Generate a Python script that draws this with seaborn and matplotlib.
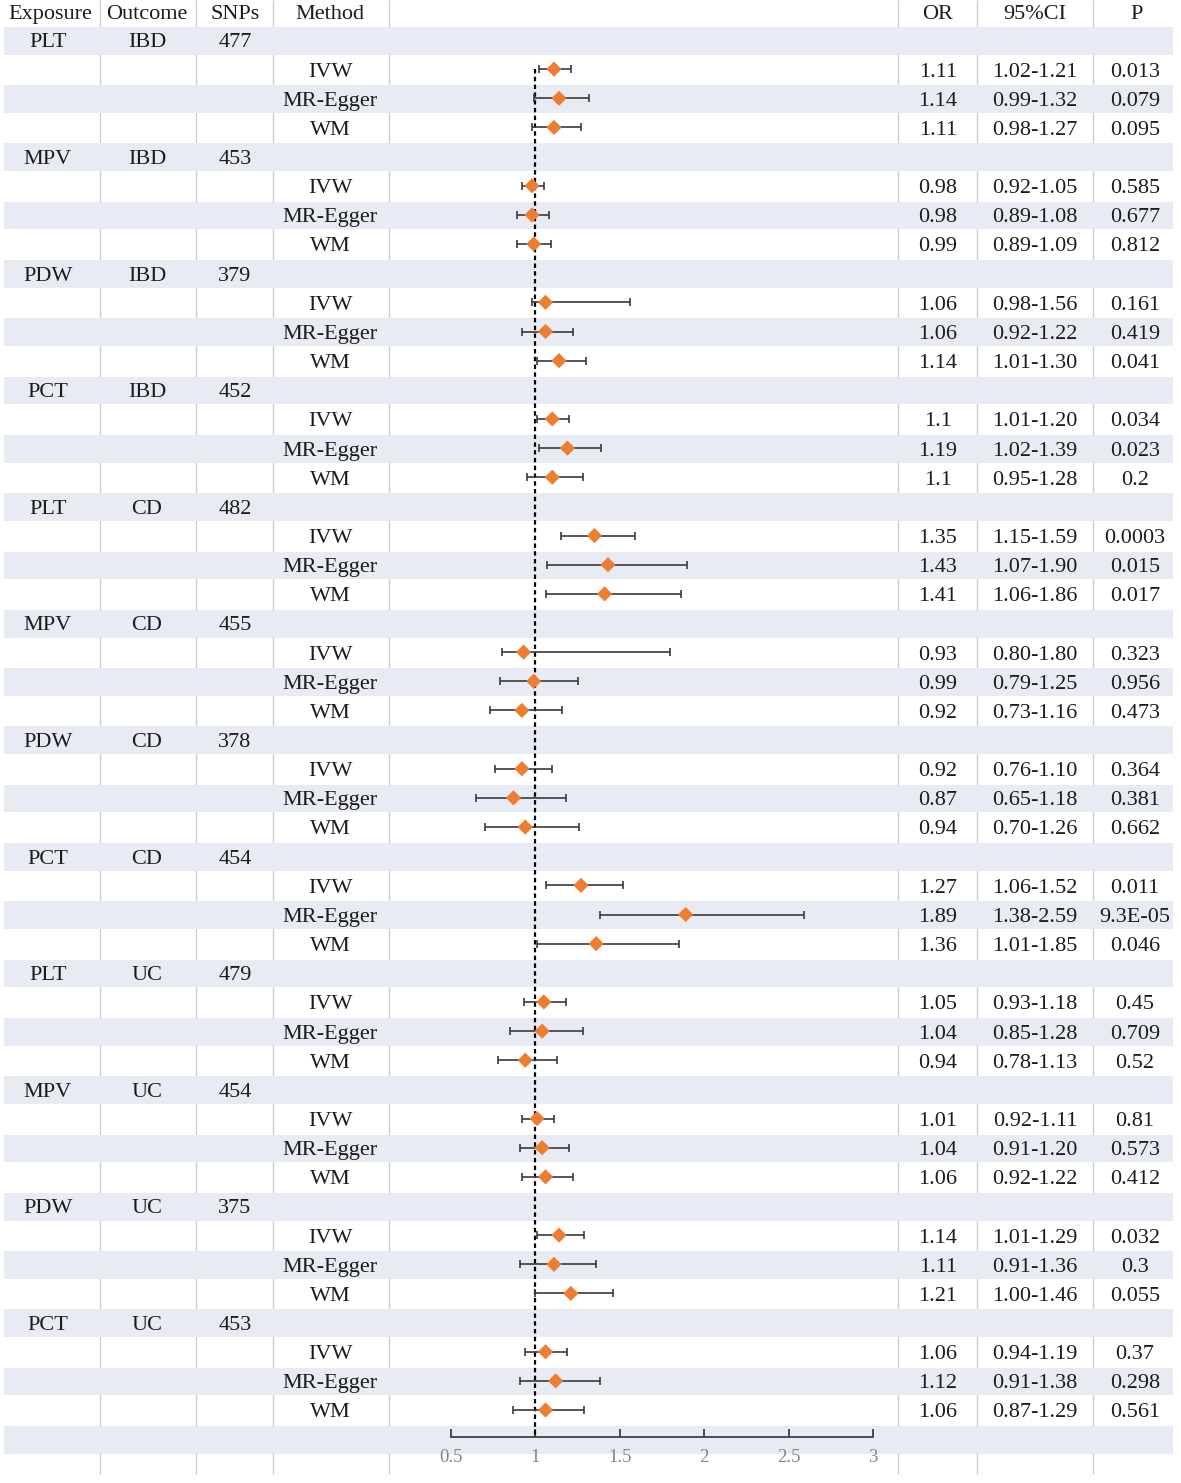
import pandas as pd
import seaborn as sns
import matplotlib.pyplot as plt

# ---- data ----
exposures = ["PLT", "MPV", "PDW", "PCT"] * 3
outcomes = ["IBD"] * 4 + ["CD"] * 4 + ["UC"] * 4
snps = ["477", "453", "379", "452", "482", "455", "378", "454", "479", "454", "375", "453"]
methods = ["IVW", "MR-Egger", "WM"]

or_text = ["1.11", "1.14", "1.11",
           "0.98", "0.98", "0.99",
           "1.06", "1.06", "1.14",
           "1.1", "1.19", "1.1",
           "1.35", "1.43", "1.41",
           "0.93", "0.99", "0.92",
           "0.92", "0.87", "0.94",
           "1.27", "1.89", "1.36",
           "1.05", "1.04", "0.94",
           "1.01", "1.04", "1.06",
           "1.14", "1.11", "1.21",
           "1.06", "1.12", "1.06"]
ci_text = ["1.02-1.21", "0.99-1.32", "0.98-1.27",
           "0.92-1.05", "0.89-1.08", "0.89-1.09",
           "0.98-1.56", "0.92-1.22", "1.01-1.30",
           "1.01-1.20", "1.02-1.39", "0.95-1.28",
           "1.15-1.59", "1.07-1.90", "1.06-1.86",
           "0.80-1.80", "0.79-1.25", "0.73-1.16",
           "0.76-1.10", "0.65-1.18", "0.70-1.26",
           "1.06-1.52", "1.38-2.59", "1.01-1.85",
           "0.93-1.18", "0.85-1.28", "0.78-1.13",
           "0.92-1.11", "0.91-1.20", "0.92-1.22",
           "1.01-1.29", "0.91-1.36", "1.00-1.46",
           "0.94-1.19", "0.91-1.38", "0.87-1.29"]
p_text = ["0.013", "0.079", "0.095",
          "0.585", "0.677", "0.812",
          "0.161", "0.419", "0.041",
          "0.034", "0.023", "0.2",
          "0.0003", "0.015", "0.017",
          "0.323", "0.956", "0.473",
          "0.364", "0.381", "0.662",
          "0.011", "9.3E-05", "0.046",
          "0.45", "0.709", "0.52",
          "0.81", "0.573", "0.412",
          "0.032", "0.3", "0.055",
          "0.37", "0.298", "0.561"]
headers = ["Exposure", "Outcome", "SNPs", "Method", "OR", "95%CI", "P"]
ticks = [0.5, 1, 1.5, 2, 2.5, 3]
tick_labels = ["0.5", "1", "1.5", "2", "2.5", "3"]

# long table for plotting
recs = []
for g in range(len(exposures)):
    for m, meth in enumerate(methods):
        i = g * 3 + m
        lo, hi = ci_text[i].split("-")
        recs.append({"row": g * 4 + m + 1, "method": meth, "or": float(or_text[i]),
                     "lo": float(lo), "hi": float(hi),
                     "or_txt": or_text[i], "ci_txt": ci_text[i], "p_txt": p_text[i]})
df = pd.DataFrame(recs)

sns.set_theme(style="white")
plt.rcParams["font.family"] = ["Liberation Serif", "DejaVu Serif"]

W, H = 1181, 1483
ROW0, ROWH = 40, 29.15          # pixel centre of first row, row pitch


def r(px):
    return (px - ROW0) / ROWH


ytop, ybot = r(0), r(H)
txt_col = "#1c1c1c"
band_col = "#e8ebf3"
fs = 16
dy = 0.1   # nudge text down a little so it sits in the middle of the row


def put(x, y, s):
    bg.text(x, y + dy, s, ha="center", va="center", fontsize=fs, color=txt_col, zorder=3)


fig = plt.figure(figsize=(W / 100, H / 100), dpi=100)
bg = fig.add_axes([0, 0, 1, 1])
bg.set_xlim(0, W)
bg.set_ylim(ybot, ytop)
bg.axis("off")

# shaded alternate rows
n_rows = len(exposures) * 4
for k in range(0, n_rows + 1, 2):
    bg.fill_between([4, 1173], k - 0.45, k + 0.5, color=band_col, lw=0, zorder=1)

# column separators
for xs in [100, 196, 273, 389, 898, 977, 1093]:
    bg.vlines(xs, ytop, r(1474), color="#cfcfcf", lw=1, zorder=0)

# header
hx = [50, 147, 235, 330, 938, 1035, 1137]
for x, t in zip(hx, headers):
    put(x, r(12), t)

# group rows
for g in range(len(exposures)):
    y = g * 4
    put(48, y, exposures[g])
    put(147, y, outcomes[g])
    put(235, y, snps[g])

# method rows
for _, row in df.iterrows():
    y = row["row"]
    put(330, y, row["method"])
    put(938, y, row["or_txt"])
    put(1035, y, row["ci_txt"])
    put(1135, y, row["p_txt"])

# forest panel
px_per_unit = (873 - 451) / 2.5
x0 = 0.5 - (451 - 389) / px_per_unit
x1 = 3 + (898 - 873) / px_per_unit
fa = fig.add_axes([389 / W, 0, (898 - 389) / W, 1])
fa.patch.set_alpha(0)

axis_y = r(1437)
fa.vlines(1, 1, axis_y, color="black", lw=1.6, linestyles=(0, (2, 1.5)), zorder=2)
fa.errorbar(df["or"], df["row"], xerr=[df["or"] - df["lo"], df["hi"] - df["or"]],
            fmt="none", ecolor="#3a3a3a", elinewidth=1.2, capsize=2.6, capthick=1.2, zorder=3)
sns.scatterplot(data=df, x="or", y="row", marker="D", color="#ED7D31", s=60,
                edgecolor="none", legend=False, ax=fa, zorder=4)

fa.set_xlim(x0, x1)
fa.set_ylim(ybot, ytop)
fa.set_xlabel("")
fa.set_ylabel("")
fa.set_yticks([])
for s in ["top", "left", "right"]:
    fa.spines[s].set_visible(False)
fa.spines["bottom"].set_position(("data", axis_y))
fa.spines["bottom"].set_bounds(0.5, 3)
fa.spines["bottom"].set_color("#333333")
fa.spines["bottom"].set_linewidth(1.2)
fa.set_xticks(ticks)
fa.set_xticklabels(tick_labels)
fa.tick_params(axis="x", direction="in", length=6, width=1.2, color="#333333",
               labelsize=13.5, labelcolor="#858585", pad=9, bottom=True)

fig.savefig("out.png", dpi=100)
